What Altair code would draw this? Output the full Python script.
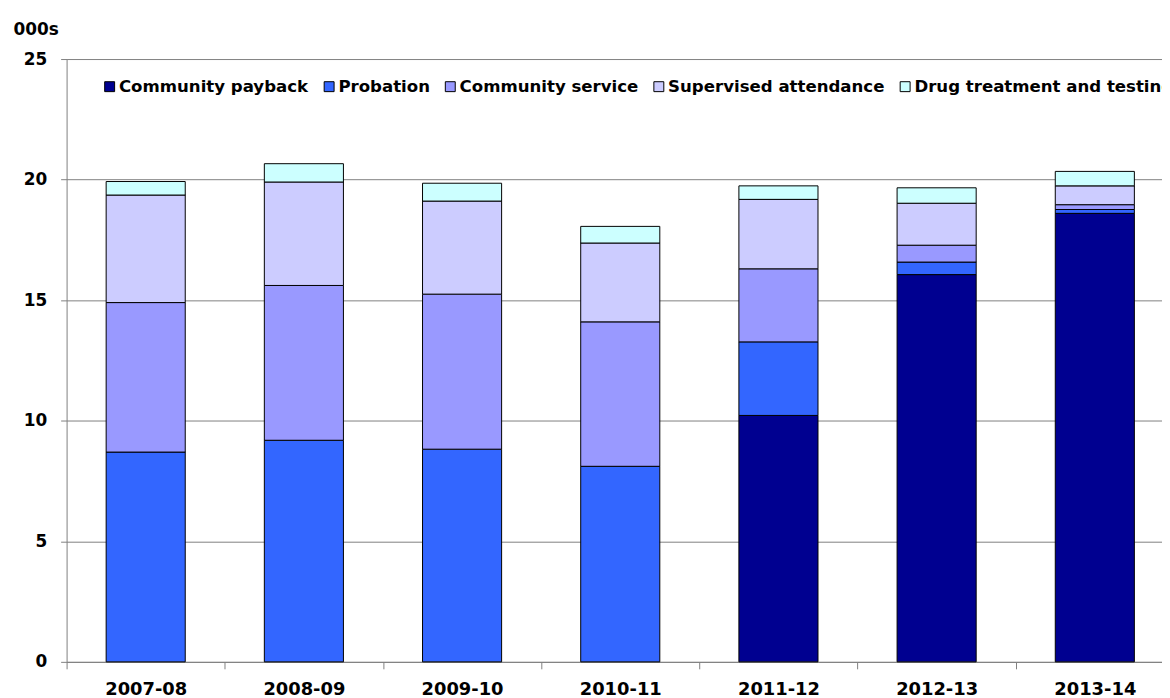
import altair as alt
import pandas as pd

years = ["2007-08", "2008-09", "2009-10", "2010-11", "2011-12", "2012-13", "2013-14"]
categories = ["Community payback", "Probation", "Community service",
              "Supervised attendance", "Drug treatment and testing"]
colors = ["#000090", "#3366FF", "#9999FF", "#CCCCFF", "#CCFFFF"]

community_payback = [0, 0, 0, 0, 10.22, 16.06, 18.60]
probation = [8.70, 9.19, 8.82, 8.11, 3.05, 0.52, 0.16]
community_service = [6.20, 6.42, 6.43, 5.99, 3.03, 0.70, 0.20]
supervised_attendance = [4.46, 4.29, 3.86, 3.27, 2.88, 1.74, 0.78]
drug_treatment = [0.56, 0.76, 0.74, 0.69, 0.56, 0.64, 0.60]

series = [community_payback, probation, community_service,
          supervised_attendance, drug_treatment]

rows = []
for ci, (cat, vals) in enumerate(zip(categories, series)):
    for y, v in zip(years, vals):
        if v > 0:
            rows.append({"year": y, "category": cat, "value": v, "idx": ci})
df = pd.DataFrame(rows)

FONT = "DejaVu Sans"

chart = alt.Chart(df).mark_bar(stroke="black", strokeWidth=1).encode(
    x=alt.X("year:N", sort=years,
            scale=alt.Scale(domain=years, range=[0, 1115],
                            paddingInner=0.5, paddingOuter=0.25),
            axis=alt.Axis(title=None, labelAngle=0, tickBand="center",
                          tickOffset=-79.6, labelOffset=79.6,
                          tickSize=7, tickColor="#808080", domainColor="#808080",
                          labelFont=FONT, labelFontWeight="bold", labelFontSize=18,
                          labelColor="black", labelPadding=12, grid=False)),
    y=alt.Y("value:Q", stack="zero",
            scale=alt.Scale(domain=[0, 25], nice=False),
            axis=alt.Axis(values=[0, 5, 10, 15, 20, 25], title="000s",
                          titleAngle=0, titleX=-54, titleY=-25,
                          titleAlign="left", titleBaseline="alphabetic",
                          titleFont=FONT, titleFontWeight="bold", titleFontSize=17,
                          titleColor="black",
                          labelFont=FONT, labelFontWeight="bold", labelFontSize=17,
                          labelColor="black", labelPadding=14,
                          tickSize=6, tickColor="#808080", domainColor="#808080",
                          grid=True, gridColor="#808080", gridWidth=1)),
    color=alt.Color("category:N",
                    scale=alt.Scale(domain=categories, range=colors),
                    legend=alt.Legend(title=None, orient="none", direction="horizontal",
                                      columns=5, legendX=35, legendY=19,
                                      symbolType="square", symbolSize=100,
                                      symbolStrokeColor="black", symbolStrokeWidth=1,
                                      labelFont=FONT, labelFontWeight="bold",
                                      labelFontSize=16.7, labelColor="black",
                                      labelOffset=1, columnPadding=12,
                                      labelLimit=400, padding=0)),
    order=alt.Order("idx:Q", sort="ascending"),
).properties(
    width=1103, height=607,
    padding={"left": 59, "top": 49, "right": 0, "bottom": 34},
    autosize=alt.AutoSizeParams(type="none"),
).configure_view(stroke=None)

chart.save("out.html", embed_options={"renderer": "svg", "actions": False})
